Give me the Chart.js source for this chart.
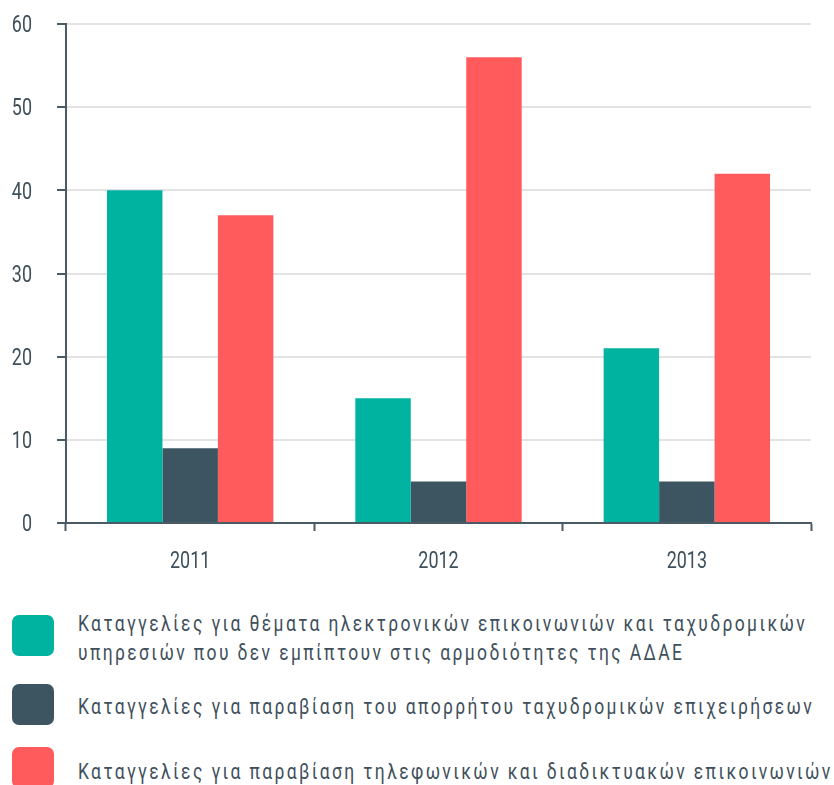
<!DOCTYPE html>
<html>
<head>
<meta charset="utf-8">
<script src="https://cdn.jsdelivr.net/npm/chart.js@4/dist/chart.umd.min.js"></script>
<style>
  html, body { margin: 0; padding: 0; background: #ffffff; width: 834px; height: 785px; overflow: hidden; }
  #wrap { position: absolute; left: 0; top: 0; width: 834px; height: 590px; }
  .swatch { position: absolute; left: 12px; width: 42px; height: 41px; border-radius: 7px; }
  .label {
    position: absolute; left: 78px;
    font-family: Roboto, "DejaVu Sans", sans-serif;
    font-size: 22px; line-height: 29px; letter-spacing: 3px; color: #3f505c; white-space: nowrap;
    transform-origin: 0 50%;
  }
</style>
</head>
<body>
<div id="wrap"><canvas id="chart"></canvas></div>
<div id="legend"></div>
<script>
// Complaints per year, by category
const categories = ['2011', '2012', '2013'];
const seriesNames = [
  ['Καταγγελίες για θέματα ηλεκτρονικών επικοινωνιών και ταχυδρομικών', 'υπηρεσιών που δεν εμπίπτουν στις αρμοδιότητες της ΑΔΑΕ'],
  ['Καταγγελίες για παραβίαση του απορρήτου ταχυδρομικών επιχειρήσεων'],
  ['Καταγγελίες για παραβίαση τηλεφωνικών και διαδικτυακών επικοινωνιών']
];
const outOfScope = [40, 15, 21];
const postalPrivacy = [9, 5, 5];
const telecomPrivacy = [37, 56, 42];
const yTickValues = [0, 10, 20, 30, 40, 50, 60];

const seriesColors = ['#00b3a1', '#3d5461', '#ff5b5c'];
const textColor = '#3f505c';
const axisColor = '#4a5b66';
const fontFamily = 'Roboto, "DejaVu Sans", sans-serif';
const narrow = 0.78;        // horizontal squeeze for the axis labels
const legendNarrow = 0.794; // horizontal squeeze for the legend text

const seriesValues = [outOfScope, postalPrivacy, telecomPrivacy];

// Axis labels drawn in a narrowed face at the positions the scales give
const condensedTicks = {
  id: 'condensedTicks',
  afterDraw(chart) {
    const ctx = chart.ctx;
    const area = chart.chartArea;
    const size = 23;
    const capHalf = size * 0.711 / 2;
    const put = (text, x, y) => {
      ctx.save();
      ctx.translate(x, y);
      ctx.scale(narrow, 1);
      ctx.fillText(text, 0, 0);
      ctx.restore();
    };
    ctx.save();
    ctx.fillStyle = textColor;
    ctx.font = size + 'px ' + fontFamily;
    ctx.textBaseline = 'alphabetic';

    const xs = chart.scales.x;
    ctx.textAlign = 'center';
    xs.ticks.forEach((t, i) => {
      put(xs.getLabelForValue(t.value), xs.getPixelForTick(i), area.bottom + 37 + capHalf);
    });

    const ys = chart.scales.y;
    ctx.textAlign = 'right';
    ys.ticks.forEach((t) => {
      put(String(t.value), area.left - 34, ys.getPixelForValue(t.value) + capHalf);
    });
    ctx.restore();
  }
};

new Chart(document.getElementById('chart'), {
  type: 'bar',
  data: {
    labels: categories,
    datasets: seriesValues.map((vals, i) => ({
      label: seriesNames[i].join(' '),
      data: vals,
      backgroundColor: seriesColors[i],
      borderWidth: 0,
      categoryPercentage: 0.67,
      barPercentage: 1.0
    }))
  },
  options: {
    responsive: true,
    maintainAspectRatio: false,
    animation: false,
    layout: { padding: { top: 24, right: 23, bottom: 0, left: 0 } },
    plugins: { legend: { display: false }, tooltip: { enabled: false } },
    scales: {
      x: {
        offset: true,
        grid: { offset: true, drawOnChartArea: false, tickLength: 8, tickColor: axisColor, tickWidth: 2 },
        border: { color: axisColor, width: 2 },
        ticks: { display: false },
        afterFit: (s) => { s.height = 67; }
      },
      y: {
        min: 0,
        max: 60,
        afterBuildTicks: (s) => { s.ticks = yTickValues.map(v => ({ value: v })); },
        grid: { color: '#e3e3e3', lineWidth: 2, tickLength: 9, tickColor: axisColor, tickWidth: 2 },
        border: { color: axisColor, width: 2 },
        ticks: { display: false },
        afterFit: (s) => { s.width = 66; }
      }
    }
  },
  plugins: [condensedTicks]
});

// Legend rows below the plot
const swatchTops = [615, 684, 747];
const textCenters = [637.5, 706, 771];
const legend = document.getElementById('legend');
seriesNames.forEach((lines, i) => {
  const sw = document.createElement('div');
  sw.className = 'swatch';
  sw.style.top = swatchTops[i] + 'px';
  sw.style.background = seriesColors[i];
  legend.appendChild(sw);

  const lbl = document.createElement('div');
  lbl.className = 'label';
  lbl.innerHTML = lines.join('<br>');
  lbl.style.top = (textCenters[i] - lines.length * 29 / 2) + 'px';
  lbl.style.transform = 'scaleX(' + legendNarrow + ')';
  legend.appendChild(lbl);
});
</script>
</body>
</html>
